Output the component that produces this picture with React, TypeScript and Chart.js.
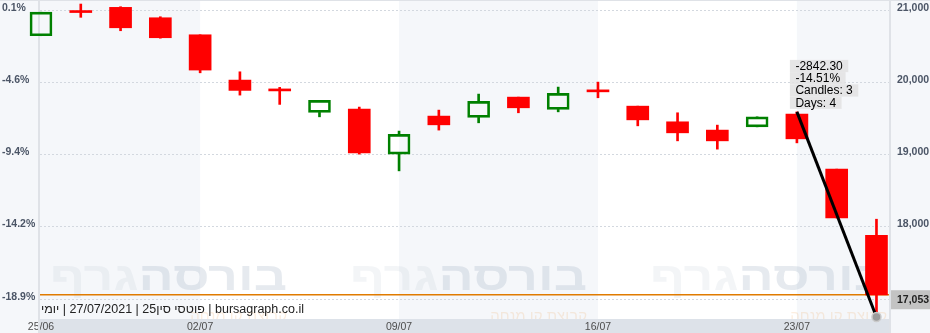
import React, { useEffect, useRef } from 'react';
import { Chart, registerables } from 'chart.js';

Chart.register(...registerables);

// ---- data ----
const dates = ['25/06', '28/06', '29/06', '30/06', '02/07', '05/07', '06/07', '07/07', '08/07', '09/07', '12/07', '13/07', '14/07', '15/07', '16/07', '19/07', '20/07', '21/07', '22/07', '23/07', '26/07', '27/07'];
const opens = [20644, 20970, 21037, 20893, 20657, 20029, 19883, 19581, 19627, 19003, 19530, 19512, 19793, 19623, 19869, 19668, 19451, 19336, 19381, 19558, 18795, 17879];
const highs = [20970, 21083, 21046, 20907, 20657, 20144, 19928, 19748, 19655, 19322, 19613, 19835, 19793, 19932, 20001, 19668, 19576, 19405, 19520, 19588.6, 18795, 18101];
const lows = [20644, 20899, 20713, 20610, 20130, 19821, 19692, 19520, 19003, 18771, 19336, 19437, 19576, 19589, 19784, 19395, 19187, 19072, 19381, 19159, 18119, 16746.3];
const closes = [20970, 20965, 20754, 20616, 20168, 19886, 19879, 19748, 19021, 19276, 19409, 19734, 19645, 19845, 19866, 19478, 19298, 19187, 19520, 19215, 18119, 17053];

const xTickLabels = ['25/06', '02/07', '09/07', '16/07', '23/07'];
const priceTicks = [21000, 20000, 19000, 18000, 17000];
const rightTickLabels = ['21,000', '20,000', '19,000', '18,000', ''];
const leftTickLabels = ['0.1%', '-4.6%', '-9.4%', '-14.2%', '-18.9%'];
const yMin = 16718;
const yMax = 21139;
const xMin = -0.025;
const xMax = 21.34;

const measureFrom = 19;
const measureTo = 21;

const infoText = 'bursagraph.co.il | פוטסי סין25 | 27/07/2021 | יומי';
const wmMain = 'בורסה';
const wmTail = 'גרף';
const wmSub = 'קבוצת קו מנחה';

// ---- styles ----
const FONT = 'Arial, "Liberation Sans", sans-serif';
const UP = '#008000';
const DOWN = '#ff0000';
const BG = '#f5f7fa';
const BAND = '#f5f7fa';
const AXIS_TXT = '#4b5566';

function dayDiff(a: string, b: string) {
  const [d1, m1] = a.split('/').map(Number);
  const [d2, m2] = b.split('/').map(Number);
  return Math.round((Date.UTC(2021, m2 - 1, d2) - Date.UTC(2021, m1 - 1, d1)) / 86400000);
}

export default function App() {
  const ref = useRef<HTMLCanvasElement>(null);

  useEffect(() => {
    const up = closes.map((c, i) => c >= opens[i]);
    const tickIdx = xTickLabels.map((l) => dates.indexOf(l));
    const bodyData = dates.map((_, i) => ({ x: i, y: [opens[i], closes[i]] }));
    const upperWick = dates.map((_, i) => ({ x: i, y: [Math.max(opens[i], closes[i]), highs[i]] }));
    const lowerWick = dates.map((_, i) => ({ x: i, y: [lows[i], Math.min(opens[i], closes[i])] }));
    const colors = dates.map((_, i) => (up[i] ? UP : DOWN));
    const startV = highs[measureFrom];
    const endV = lows[measureTo];
    const diff = endV - startV;
    const pct = (diff / startV) * 100;
    const labelLines = [
      diff.toFixed(2),
      pct.toFixed(2) + '%',
      'Candles: ' + (measureTo - measureFrom + 1),
      'Days: ' + dayDiff(dates[measureFrom], dates[measureTo]),
    ];
    const lastClose = closes[closes.length - 1];

    const decor = {
      id: 'decor',
      beforeDraw(chart: any) {
        const { ctx, chartArea: a, width: W, height: H } = chart;
        const xs = chart.scales.x;
        ctx.save();
        ctx.fillStyle = BG;
        ctx.fillRect(0, 0, W, H);
        // weekly bands
        const bounds = [a.left, ...tickIdx.slice(1).map((i) => xs.getPixelForValue(i)), a.right];
        for (let k = 0; k < bounds.length - 1; k++) {
          ctx.fillStyle = k % 2 === 0 ? BAND : '#ffffff';
          ctx.fillRect(bounds[k], a.top, bounds[k + 1] - bounds[k], a.bottom - a.top);
        }
        // watermark
        ctx.save();
        ctx.beginPath();
        ctx.rect(a.left, a.top, a.right - a.left, a.bottom - a.top);
        ctx.clip();
        ctx.font = `bold 40px ${FONT}`;
        const wM = ctx.measureText(wmMain).width;
        const wT = ctx.measureText(wmTail).width;
        const sx = 237 / (wM + wT);
        for (let r = a.left + 247; r < a.right + 300; r += 300) {
          ctx.save();
          ctx.translate(r, 290);
          ctx.scale(sx, 1);
          ctx.textAlign = 'right';
          ctx.textBaseline = 'alphabetic';
          ctx.font = `bold 40px ${FONT}`;
          ctx.fillStyle = 'rgba(160,174,194,0.26)';
          ctx.fillText(wmMain, 0, 0);
          ctx.fillStyle = 'rgba(160,174,194,0.13)';
          ctx.fillText(wmTail, -wM, 0);
          ctx.restore();
          ctx.font = `15px ${FONT}`;
          ctx.textAlign = 'right';
          ctx.fillStyle = 'rgba(235,150,60,0.16)';
          ctx.fillText(wmSub, r, 321);
        }
        ctx.restore();
        // bottom axis band
        ctx.fillStyle = '#dde2e9';
        ctx.fillRect(a.left, a.bottom, a.right - a.left, H - a.bottom);
        ctx.restore();
      },
      beforeDatasetsDraw(chart: any) {
        const { ctx, chartArea: a, width: W, height: H } = chart;
        const ys = chart.scales.y;
        ctx.save();
        // dotted grid
        ctx.strokeStyle = '#d3d8df';
        ctx.lineWidth = 1;
        ctx.setLineDash([2, 2]);
        for (const v of priceTicks) {
          const y = Math.round(ys.getPixelForValue(v)) + 0.5;
          ctx.beginPath();
          ctx.moveTo(a.left, y);
          ctx.lineTo(a.right, y);
          ctx.stroke();
        }
        ctx.setLineDash([]);
        // last price line
        const yp = ys.getPixelForValue(lastClose);
        ctx.strokeStyle = '#e07b00';
        ctx.lineWidth = 1.5;
        ctx.beginPath();
        ctx.moveTo(a.left, yp);
        ctx.lineTo(a.right, yp);
        ctx.stroke();
        // borders
        ctx.fillStyle = '#dfe2e7';
        ctx.fillRect(a.left - 2, 0, 2, H);
        ctx.fillRect(a.right - 1, 0, 2, H);
        ctx.fillRect(0, 0, W, 1);
        // info text
        ctx.font = `12.5px ${FONT}`;
        ctx.fillStyle = '#222';
        ctx.direction = 'rtl';
        ctx.textAlign = 'left';
        ctx.textBaseline = 'alphabetic';
        ctx.fillText(infoText, a.left + 1, 313);
        ctx.restore();
      },
      afterDatasetsDraw(chart: any) {
        const { ctx } = chart;
        const xs = chart.scales.x;
        const ys = chart.scales.y;
        const sxp = xs.getPixelForValue(measureFrom);
        const syp = ys.getPixelForValue(startV);
        const rowH = 12.25;
        const left = sxp - 7;
        const top = syp - 3 - labelLines.length * rowH;
        ctx.save();
        ctx.font = `12px ${FONT}`;
        ctx.textBaseline = 'middle';
        ctx.textAlign = 'left';
        labelLines.forEach((t, k) => {
          const w = ctx.measureText(t).width + 11;
          ctx.fillStyle = 'rgba(226,226,226,0.85)';
          ctx.fillRect(left, top + k * rowH, w, rowH);
          ctx.fillStyle = '#000';
          ctx.fillText(t, left + 5.5, top + k * rowH + rowH / 2 + 0.5);
        });
        ctx.restore();
      },
      afterDraw(chart: any) {
        const { ctx, chartArea: a, width: W } = chart;
        const ys = chart.scales.y;
        const yp = ys.getPixelForValue(lastClose);
        ctx.save();
        ctx.fillStyle = '#c3c3c3';
        ctx.fillRect(a.right + 1, yp - 4.6, W - a.right - 1, 19);
        ctx.fillStyle = '#222';
        ctx.font = `bold 10.5px ${FONT}`;
        ctx.textBaseline = 'middle';
        ctx.textAlign = 'left';
        ctx.fillText(lastClose.toLocaleString('en-US'), a.right + 7, yp - 4.6 + 9.5);
        ctx.restore();
      },
    };

    const chart = new Chart(ref.current as HTMLCanvasElement, {
      type: 'bar',
      data: {
        datasets: [
          {
            type: 'line',
            data: [
              { x: measureFrom, y: startV },
              { x: measureTo, y: endV },
            ],
            borderColor: '#000',
            borderWidth: 3,
            pointRadius: [0, 4.5],
            pointBackgroundColor: '#9b9b9b',
            pointBorderColor: '#cacaca',
            pointBorderWidth: 1.5,
            clip: false,
            order: 0,
          } as any,
          {
            data: bodyData,
            backgroundColor: dates.map((_, i) => (up[i] ? 'rgba(0,0,0,0)' : DOWN)),
            borderColor: colors,
            borderWidth: dates.map((_, i) => (up[i] ? 2 : 0)),
            borderSkipped: false,
            barThickness: 22,
            minBarLength: 2,
            grouped: false,
            clip: false,
            order: 1,
          } as any,
          {
            data: upperWick,
            backgroundColor: colors,
            borderWidth: 0,
            barThickness: 2,
            grouped: false,
            clip: false,
            order: 2,
          } as any,
          {
            data: lowerWick,
            backgroundColor: colors,
            borderWidth: 0,
            barThickness: 2,
            grouped: false,
            clip: false,
            order: 2,
          } as any,
        ],
      },
      options: {
        responsive: true,
        maintainAspectRatio: false,
        animation: false,
        devicePixelRatio: 1,
        events: [],
        layout: { autoPadding: false, padding: { left: 2, right: 0, top: 0, bottom: 0 } },
        plugins: { legend: { display: false }, tooltip: { enabled: false } },
        scales: {
          x: {
            type: 'linear',
            min: xMin,
            max: xMax,
            offset: false,
            grid: { display: false, drawTicks: false },
            border: { display: false },
            afterBuildTicks: (s: any) => {
              s.ticks = tickIdx.map((v) => ({ value: v }));
            },
            afterFit: (s: any) => {
              s.height = 14;
              s.paddingLeft = 0;
              s.paddingRight = 0;
            },
            ticks: {
              autoSkip: false,
              maxRotation: 0,
              padding: 2,
              color: '#4d4d4d',
              font: { family: FONT, size: 10.5 },
              callback: (v: any) => dates[v],
            },
          },
          y: {
            type: 'linear',
            position: 'right',
            min: yMin,
            max: yMax,
            grid: { display: false, drawTicks: false },
            border: { display: false },
            afterBuildTicks: (s: any) => {
              s.ticks = priceTicks.map((v) => ({ value: v }));
            },
            afterFit: (s: any) => {
              s.width = 40;
              s.paddingTop = 0;
              s.paddingBottom = 0;
            },
            ticks: {
              padding: 7,
              labelOffset: -2,
              color: AXIS_TXT,
              font: { family: FONT, size: 10.5, weight: 'bold' },
              callback: (v: any) => rightTickLabels[priceTicks.indexOf(v)],
            },
          },
          yL: {
            type: 'linear',
            position: 'left',
            min: yMin,
            max: yMax,
            grid: { display: false, drawTicks: false },
            border: { display: false },
            afterBuildTicks: (s: any) => {
              s.ticks = priceTicks.map((v) => ({ value: v }));
            },
            afterFit: (s: any) => {
              s.width = 38;
              s.paddingTop = 0;
              s.paddingBottom = 0;
            },
            ticks: {
              crossAlign: 'far',
              padding: 0,
              labelOffset: -2,
              color: AXIS_TXT,
              font: { family: FONT, size: 10.5, weight: 'bold' },
              callback: (v: any) => leftTickLabels[priceTicks.indexOf(v)],
            },
          },
        } as any,
      },
      plugins: [decor],
    });
    return () => chart.destroy();
  }, []);

  return (
    <div style={{ position: 'fixed', left: 0, top: 0, width: 930, height: 333 }}>
      <canvas ref={ref} />
    </div>
  );
}
